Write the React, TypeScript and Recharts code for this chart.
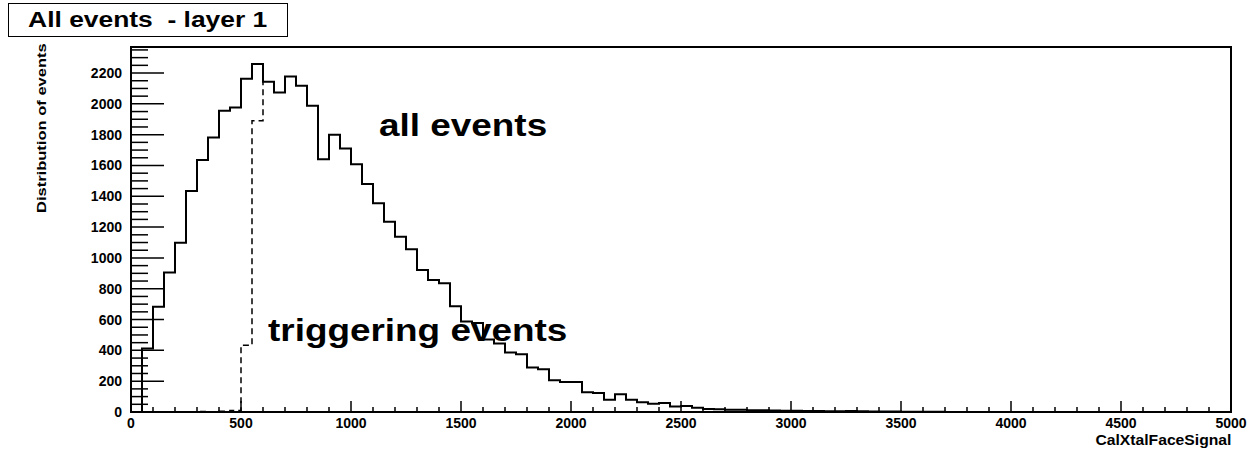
import { ComposedChart, Line, XAxis, YAxis, ReferenceArea } from 'recharts';

// histogram bins are 50 wide, from 0 to 5000 (100 bins)
const binWidth = 50;

const allEvents = [
  0, 412, 683, 906, 1099, 1435, 1636, 1781, 1955, 1976,
  2163, 2258, 2143, 2074, 2178, 2117, 1987, 1641, 1799, 1710,
  1608, 1480, 1355, 1235, 1138, 1056, 921, 856, 835, 687,
  588, 578, 470, 445, 386, 375, 289, 278, 206, 195,
  195, 128, 124, 80, 115, 80, 63, 54, 58, 36,
  39, 28, 20, 18, 15, 14, 12, 11, 9, 8,
  8, 7, 6, 5, 5, 6, 5, 4, 3, 3,
  2, 1, 1, 2, 0, 0, 0, 0, 0, 0,
  0, 0, 0, 0, 0, 0, 0, 0, 0, 0,
  0, 0, 0, 0, 0, 0, 0, 0, 0, 0,
];

// above 600 the triggering histogram is the same as all events (drawn underneath)
const triggeringEvents = [0, 0, 0, 0, 2, 0, 3, 1, 5, 10, 434, 1890, 2143];

const xMajorLabels = [0, 500, 1000, 1500, 2000, 2500, 3000, 3500, 4000, 4500, 5000];
const yMajorLabels = [0, 200, 400, 600, 800, 1000, 1200, 1400, 1600, 1800, 2000, 2200];
const xMinorStep = 100;
const yMinorStep = 50;
const yMax = 2369;

const xTicks: number[] = [];
for (let v = 0; v <= 5000; v += xMinorStep) xTicks.push(v);
const yTicks: number[] = [];
for (let v = 0; v <= yMax; v += yMinorStep) yTicks.push(v);

const data = [];
for (let i = 0; i <= allEvents.length; i++) {
  data.push({
    x: i * binWidth,
    all: i < allEvents.length ? allEvents[i] : allEvents[allEvents.length - 1],
    trig: i < triggeringEvents.length ? triggeringEvents[i] : undefined,
  });
}

const font = '"Liberation Sans", Arial, Helvetica, sans-serif';

const XTick = (props: any) => {
  const { x, y, payload } = props;
  const major = xMajorLabels.includes(payload.value);
  return (
    <g>
      <line x1={x} x2={x} y1={y} y2={y - (major ? 11 : 5)} stroke="#000" strokeWidth={1.5} />
      {major && (
        <text x={x} y={y + 15.5} textAnchor="middle" fontSize={14} fontWeight="bold" fontFamily={font} fill="#000">
          {payload.value}
        </text>
      )}
    </g>
  );
};

const YTick = (props: any) => {
  const { x, y, payload } = props;
  const major = yMajorLabels.includes(payload.value);
  return (
    <g>
      <line x1={x} x2={x + (major ? 33 : 17)} y1={y} y2={y} stroke="#000" strokeWidth={1.5} />
      {major && (
        <text x={x - 9} y={y + 5} textAnchor="end" fontSize={14} fontWeight="bold" fontFamily={font} fill="#000">
          {payload.value}
        </text>
      )}
    </g>
  );
};

const bigText: React.CSSProperties = {
  position: 'absolute',
  fontFamily: font,
  fontWeight: 'bold',
  fontSize: 31,
  lineHeight: 1,
  whiteSpace: 'pre',
  transform: 'scaleX(1.19)',
  transformOrigin: 'left top',
  color: '#000',
};

export default function App() {
  return (
    <div style={{ position: 'absolute', left: 0, top: 0, width: 1252, height: 453, background: '#fff' }}>
      <ComposedChart width={1252} height={453} data={data} margin={{ top: 47, right: 21, bottom: 0, left: 0 }}>
        <ReferenceArea x1={0} x2={5000} y1={0} y2={yMax} fill="none" stroke="#000" strokeWidth={2} />
        <XAxis
          dataKey="x"
          type="number"
          domain={[0, 5000]}
          allowDataOverflow
          ticks={xTicks}
          interval={0}
          tickSize={0}
          tickMargin={0}
          height={41}
          axisLine={{ stroke: '#000', strokeWidth: 2 }}
          tick={<XTick />}
        />
        <YAxis
          type="number"
          domain={[0, yMax]}
          allowDataOverflow
          ticks={yTicks}
          interval={0}
          tickSize={0}
          tickMargin={0}
          width={131}
          axisLine={{ stroke: '#000', strokeWidth: 2 }}
          tick={<YTick />}
        />
        <Line
          type="stepAfter"
          dataKey="trig"
          stroke="#000"
          strokeWidth={1.5}
          strokeDasharray="6 4"
          dot={false}
          isAnimationActive={false}
        />
        <Line
          type="stepAfter"
          dataKey="all"
          stroke="#000"
          strokeWidth={2}
          dot={false}
          isAnimationActive={false}
        />
      </ComposedChart>

      <div
        style={{
          position: 'absolute',
          left: 8,
          top: 3,
          width: 278,
          height: 32,
          border: '1.5px solid #000',
          background: '#fff',
          fontFamily: font,
          fontWeight: 'bold',
          fontSize: 22,
          lineHeight: '32px',
          textAlign: 'center',
          whiteSpace: 'pre',
        }}
      >
        <span style={{ display: 'inline-block', transform: 'scaleX(1.2)' }}>All events  - layer 1</span>
      </div>

      <div style={{ ...bigText, left: 379, top: 110 }}>all events</div>
      <div style={{ ...bigText, left: 268, top: 315 }}>triggering events</div>

      <div
        style={{
          position: 'absolute',
          left: 35,
          top: 213,
          fontFamily: font,
          fontWeight: 'bold',
          fontSize: 13,
          lineHeight: 1,
          whiteSpace: 'pre',
          transform: 'rotate(-90deg) scaleX(1.27)',
          transformOrigin: 'left top',
        }}
      >
        Distribution of events
      </div>

      <div
        style={{
          position: 'absolute',
          right: 21,
          top: 433,
          fontFamily: font,
          fontWeight: 'bold',
          fontSize: 14,
          lineHeight: 1,
          whiteSpace: 'pre',
          transform: 'scaleX(1.12)',
          transformOrigin: 'right top',
        }}
      >
        CalXtalFaceSignal
      </div>
    </div>
  );
}
